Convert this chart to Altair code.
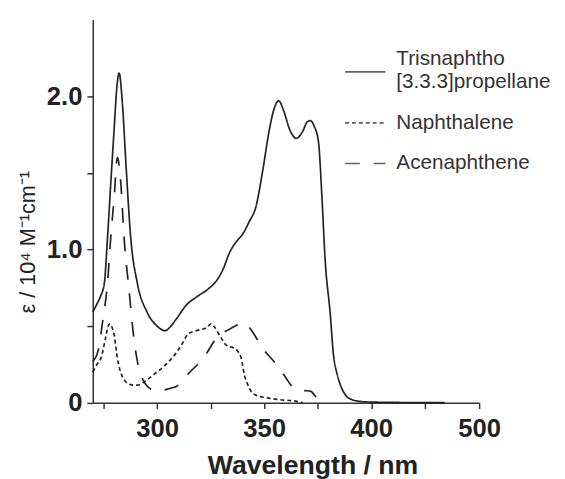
import altair as alt
import pandas as pd

# Trisnaphtho[3.3.3]propellane (solid)
tri_wl = [270, 272.5, 273.8, 275.4, 276.9, 278.4, 280, 281.2, 282.3, 283.8, 285.4, 287.7,
          290.8, 295.4, 300, 303.8, 306.5, 309.2, 313.9, 318.5, 324.6, 328, 330.8, 333.9,
          337, 340, 343, 346.2, 349.3, 352.3, 354.5, 356.8, 359, 362, 365, 368, 370,
          371.5, 373.5, 375.4, 377, 378.5, 380.8, 382.4, 384, 385.5, 388, 391, 395, 400,
          420, 450, 468]
tri_eps = [0.59, 0.66, 0.70, 0.78, 1.08, 1.43, 1.79, 2.05, 2.15, 1.96, 1.58, 1.08,
           0.78, 0.59, 0.50, 0.47, 0.50, 0.55, 0.64, 0.69, 0.75, 0.80, 0.87, 0.98,
           1.05, 1.10, 1.18, 1.28, 1.51, 1.77, 1.91, 1.97, 1.91, 1.78, 1.725, 1.77, 1.83,
           1.84, 1.80, 1.70, 1.34, 0.93, 0.59, 0.31, 0.19, 0.12, 0.05, 0.02, 0.008, 0.004,
           0.002, 0.0, 0.0]

# Naphthalene (dotted)
nap_wl = [270, 272, 273.8, 276.1, 277.2, 278, 279, 280, 281.5, 283.8, 285.5, 287.7,
          290.8, 295.4, 299, 303.1, 309.2, 312, 314.6, 318.5, 323.1, 325.4, 327, 329.2,
          332.3, 336.2, 338, 339.3, 340.8, 342.3, 343.9, 346, 349.3, 357, 364.7, 368]
nap_eps = [0.20, 0.25, 0.29, 0.43, 0.50, 0.515, 0.49, 0.44, 0.29, 0.17, 0.135, 0.118,
           0.114, 0.15, 0.19, 0.236, 0.33, 0.39, 0.45, 0.47, 0.49, 0.515, 0.49, 0.44,
           0.375, 0.354, 0.33, 0.29, 0.18, 0.12, 0.075, 0.05, 0.037, 0.02, 0.01, 0.0]

# Acenaphthene (dashed)
ace_wl = [270, 272.3, 275, 276.9, 278.4, 280, 281.5, 283.1, 284.6, 286.9, 289.2, 291.5,
          293.8, 297, 300.8, 304, 307, 309.2, 312, 315.4, 321.6, 327.7, 333.9, 338,
          340.6, 342.5, 344.7, 349.3, 353.9, 359.3, 363.9, 368, 371.6, 373.5, 376.2]
ace_eps = [0.27, 0.33, 0.57, 0.78, 1.08, 1.34, 1.60, 1.43, 1.08, 0.74, 0.42, 0.225,
           0.14, 0.09, 0.077, 0.085, 0.097, 0.107, 0.15, 0.20, 0.29, 0.42, 0.48, 0.51,
           0.52, 0.50, 0.46, 0.354, 0.28, 0.18, 0.096, 0.08, 0.075, 0.05, 0.0]

series_names = ["Trisnaphtho [3.3.3]propellane", "Naphthalene", "Acenaphthene"]
series_dash = [[1, 0], [4, 3], [15, 14]]
x_ticks = [275, 300, 325, 350, 375, 400, 450, 500]
x_labeled = [300, 350, 400, 500]
y_ticks = [0, 0.5, 1.0, 1.5, 2.0]

rows = []
for name, wl, eps in zip(series_names, [tri_wl, nap_wl, ace_wl], [tri_eps, nap_eps, ace_eps]):
    for w, e in zip(wl, eps):
        rows.append({"series": name, "wl": w, "eps": e})
df = pd.DataFrame(rows)

FONT = "Liberation Sans"
INK = "#222222"

x_enc = alt.X(
    "wl:Q",
    scale=alt.Scale(domain=[270, 400, 500], range=[0, 282.5, 392], nice=False),
    axis=alt.Axis(
        values=x_ticks,
        labelExpr="indexof([300,350,400,500], datum.value) >= 0 ? datum.label : ''",
        labelFlush=False,
        title="Wavelength / nm",
        titleFontSize=27, titleFontWeight="bold", titleFont=FONT, titleColor=INK,
        titleX=223, titleY=51, titleBaseline="top",
        labelPadding=7,
    ),
)
y_enc = alt.Y(
    "eps:Q",
    scale=alt.Scale(domain=[0, 2.5], nice=False),
    axis=alt.Axis(
        values=y_ticks,
        labelExpr="datum.value == 0 ? '0' : (datum.value == 1 || datum.value == 2 ? format(datum.value, '.1f') : '')",
        labelFlush=False,
        title="ε / 10⁴ M⁻¹cm⁻¹",
        titleFontSize=22, titleFontWeight="normal", titleFont=FONT, titleColor=INK,
        titleX=-54, titleY=225.5, titleAngle=-90, titleBaseline="bottom",
        labelPadding=5,
    ),
)

dash_scale = alt.Scale(domain=series_names, range=series_dash)
# legend symbols: horizontal strokes; the first one sits between its two label lines
shape_scale = alt.Scale(domain=series_names,
                        range=["M-1,0.62L1,0.62", "M-1,0L1,0", "M-1,0L1,0"])

legend = alt.Legend(
    orient="none", legendX=255, legendY=19, direction="vertical",
    title=None, symbolSize=1681,
    symbolStrokeWidth=1.7, symbolStrokeColor=INK, symbolFillColor="transparent",
    labelFont=FONT, labelFontSize=21, labelColor="#333333",
    labelOffset=10, labelLimit=400, rowPadding=9.3, padding=0,
    labelExpr="split(datum.label, ' ')",
)

line_layers = []
for i, (name, dash) in enumerate(zip(series_names, series_dash)):
    layer = alt.Chart(df).transform_filter(
        alt.datum.series == name
    ).mark_line(color=INK, strokeWidth=1.7, interpolate="monotone", strokeDash=dash).encode(
        x=x_enc if i == 0 else alt.X("wl:Q"),
        y=y_enc if i == 0 else alt.Y("eps:Q"),
    )
    line_layers.append(layer)

legend_layer = alt.Chart(df).transform_filter("datum.wl < 0").mark_point(
    filled=False, color=INK, strokeWidth=1.7
).encode(
    x=alt.X("wl:Q"),
    y=alt.Y("eps:Q"),
    strokeDash=alt.StrokeDash("series:N", scale=dash_scale, legend=legend),
    shape=alt.Shape("series:N", scale=shape_scale, legend=legend),
)

chart = alt.layer(*line_layers, legend_layer).properties(
    width=392, height=388.75,
    autosize=alt.AutoSizeParams(type="none"),
    padding={"left": 86, "top": 8.25, "right": 79, "bottom": 74},
).configure_axis(
    grid=False,
    domainColor="#333333", domainWidth=1.5,
    tickColor="#333333", tickWidth=1.5, tickSize=6,
    labelFont=FONT, labelFontSize=26, labelFontWeight="bold", labelColor=INK,
).configure_view(stroke=None)

chart.save("out.html", embed_options={"renderer": "svg", "actions": False})
